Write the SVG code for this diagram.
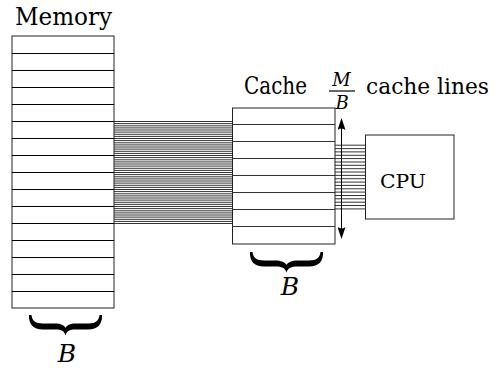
<svg xmlns="http://www.w3.org/2000/svg" width="494" height="368" viewBox="0 0 494 368">
<style>
.t{font-family:"DejaVu Serif","Liberation Serif",serif;fill:#000}
.it{font-style:italic}
.box{fill:#fff;stroke:#222;stroke-width:1}
.row{stroke:#000;stroke-width:1}
.crow{stroke:#333;stroke-width:1}
.wire{stroke:#000;stroke-width:0.8}
.brace{fill:#000}
</style>
<defs>
<marker id="ah" viewBox="0 0 12 8" refX="11" refY="4" markerWidth="12" markerHeight="8" markerUnits="userSpaceOnUse" orient="auto-start-reverse">
<path d="M0,0 Q3,4 0,8 L12,4 Z" fill="#000"/>
</marker>
</defs>
<rect width="494" height="368" fill="#fff"/>
<g id="connectors">
<g id="mem-cache-wires">
<path class="wire" d="M114,121.5H232.5M114,123.6H232.5M114,125.8H232.5M114,127.9H232.5M114,130H232.5M114,132.1H232.5M114,134.3H232.5M114,136.4H232.5M114,138.5H232.5M114,140.6H232.5M114,142.8H232.5M114,144.9H232.5M114,147H232.5M114,149.1H232.5M114,151.3H232.5M114,153.4H232.5M114,155.5H232.5M114,157.6H232.5M114,159.8H232.5M114,161.9H232.5M114,164H232.5M114,166.1H232.5M114,168.3H232.5M114,170.4H232.5M114,172.5H232.5M114,174.6H232.5M114,176.8H232.5M114,178.9H232.5M114,181H232.5M114,183.1H232.5M114,185.3H232.5M114,187.4H232.5M114,189.5H232.5M114,191.6H232.5M114,193.8H232.5M114,195.9H232.5M114,198H232.5M114,200.1H232.5M114,202.3H232.5M114,204.4H232.5M114,206.5H232.5M114,208.6H232.5M114,210.8H232.5M114,212.9H232.5M114,215H232.5M114,217.1H232.5M114,219.3H232.5M114,221.4H232.5M114,223.5H232.5"/>
</g>
<g id="cache-cpu-wires">
<path class="wire" d="M335,145.2H365.5M335,148.6H365.5M335,151.9H365.5M335,155.3H365.5M335,158.6H365.5M335,162H365.5M335,165.3H365.5M335,168.7H365.5M335,172H365.5M335,175.4H365.5M335,178.7H365.5M335,182.1H365.5M335,185.4H365.5M335,188.8H365.5M335,192.1H365.5M335,195.5H365.5M335,198.8H365.5M335,202.2H365.5M335,205.5H365.5M335,208.9H365.5"/>
</g>
<line id="size-arrow" x1="341.5" y1="119" x2="341.5" y2="238" stroke="#000" stroke-width="1" marker-start="url(#ah)" marker-end="url(#ah)"/>
</g>
<g id="memory">
<text class="t" x="15" y="25" font-size="25" textLength="97" lengthAdjust="spacingAndGlyphs">Memory</text>
<rect class="box" x="12" y="36" width="102" height="272"/>
<path class="row" d="M12,53.5H114M12,70.5H114M12,87.5H114M12,104.5H114M12,121.5H114M12,138.5H114M12,155.5H114M12,172.5H114M12,189.5H114M12,206.5H114M12,223.5H114M12,240.5H114M12,257.5H114M12,274.5H114M12,291.5H114"/>
<path class="brace" d="M29,315 C28.5,324 33,329.5 43,329.5 L56,329.5 C61,329.5 64.5,331 65.5,335.5 C66.5,331 70,329.5 75,329.5 L88,329.5 C98,329.5 102.5,324 102,315 L99.5,315 C99,320 96,323.5 88,323.5 L76,323.5 C70,323.5 66.5,325.5 65.5,328 C64.5,325.5 61,323.5 55,323.5 L43,323.5 C35,323.5 32,320 31.5,315 Z"/>
<text class="t it" x="67" y="362" font-size="25" text-anchor="middle">B</text>
</g>
<g id="cache">
<text class="t" x="244" y="94" font-size="24" textLength="63" lengthAdjust="spacingAndGlyphs">Cache</text>
<text class="t it" x="341.5" y="86" font-size="18" text-anchor="middle">M</text>
<line x1="329" y1="91" x2="355" y2="91" stroke="#000" stroke-width="1.2"/>
<text class="t it" x="342" y="108.5" font-size="18" text-anchor="middle">B</text>
<text class="t" x="366" y="94" font-size="21.5" textLength="123" lengthAdjust="spacingAndGlyphs">cache lines</text>
<rect class="box" x="232.5" y="108" width="102.5" height="136" fill-opacity="0"/>
<path class="crow" d="M232.5,124.5H335M232.5,141.5H335M232.5,158.5H335M232.5,175.5H335M232.5,192.5H335M232.5,209.5H335M232.5,226.5H335"/>
<path class="brace" d="M250,252 C249.5,261 254,266.5 264,266.5 L276,266.5 C281,266.5 285.5,268 286.5,272.5 C287.5,268 292,266.5 297,266.5 L309,266.5 C319,266.5 323.5,261 323,252 L320.5,252 C320,257 317,260.5 309,260.5 L298,260.5 C292,260.5 287.5,262.5 286.5,265 C285.5,262.5 281,260.5 275,260.5 L264,260.5 C256,260.5 253,257 252.5,252 Z"/>
<text class="t it" x="290" y="295" font-size="25" text-anchor="middle">B</text>
</g>
<g id="cpu">
<rect class="box" x="365.5" y="135" width="88.5" height="84"/>
<text class="t" x="380" y="188" font-size="19" textLength="46" lengthAdjust="spacingAndGlyphs">CPU</text>
</g>
</svg>
